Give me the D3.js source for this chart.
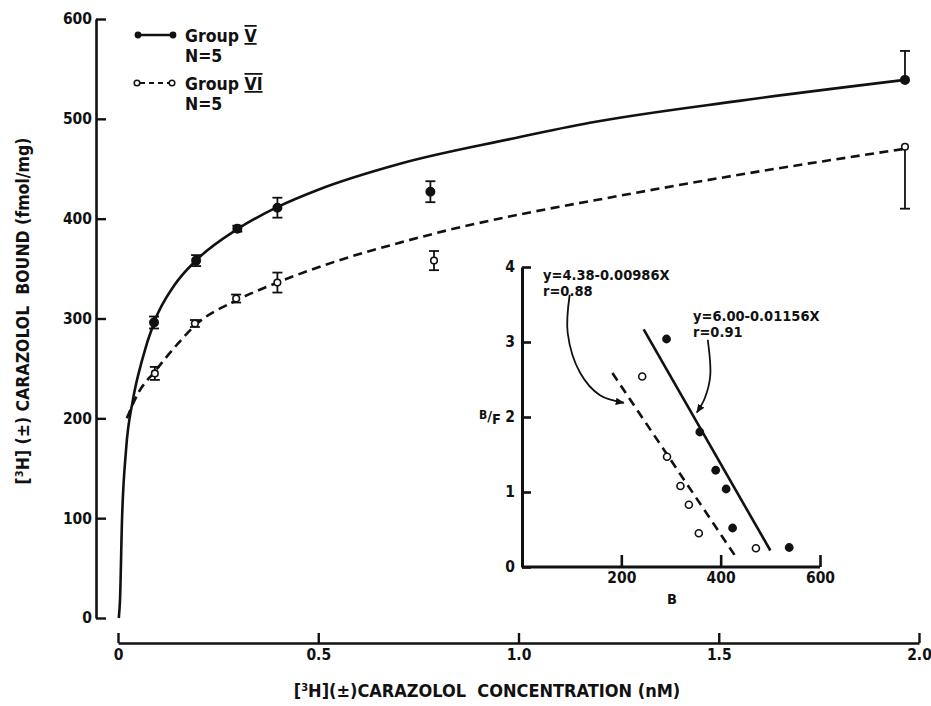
<!DOCTYPE html>
<html>
<head>
<meta charset="utf-8">
<script src="https://cdn.jsdelivr.net/npm/d3@7"></script>
<style>
  html, body { margin: 0; padding: 0; background: #fff; }
  svg { display: block; }
  text { font-family: "DejaVu Sans Condensed", "Liberation Sans Narrow", "DejaVu Sans", sans-serif; font-weight: bold; fill: #111; }
</style>
</head>
<body>
<svg id="chart" width="931" height="706"></svg>
<script>
// ---- Saturation binding: [3H](±)carazolol bound vs concentration ----
const concV = [0.09, 0.195, 0.298, 0.398, 0.78, 1.965];
const boundV = [296, 358, 390, 411, 427, 539];
const errV = [6, 5.5, 3, 10, 10.5, 29];
const errSideV = ["both", "both", "both", "both", "both", "up"];

const concVI = [0.092, 0.192, 0.295, 0.398, 0.789, 1.965];
const boundVI = [245, 295, 320, 336, 358, 472];
const errVI = [6.5, 3.5, 4, 10, 9.6, 62];
const errSideVI = ["both", "both", "both", "both", "both", "down"];

// fitted curves (concentration, bound)
const curveVx = [0.002, 0.005, 0.01, 0.02, 0.037, 0.06, 0.09, 0.142, 0.197, 0.3, 0.4, 0.5, 0.704, 0.983, 1.178, 1.551, 1.965];
const curveVy = [0, 18, 98, 168, 218, 258, 296, 334, 359, 390, 412, 429, 455, 480, 496, 518, 539];
const curveVIx = [0.022, 0.05, 0.092, 0.15, 0.192, 0.295, 0.398, 0.542, 0.704, 0.829, 1.0, 1.212, 1.551, 1.965];
const curveVIy = [200, 225, 247, 275, 293, 318, 336, 357, 376, 389, 404, 420, 444, 470];

const xTicks = [0, 0.5, 1.0, 1.5, 2.0];
const xTickLabels = ["0", "0.5", "1.0", "1.5", "2.0"];
const yTicks = [0, 100, 200, 300, 400, 500, 600];

// ---- Scatchard inset: B/F vs B ----
const scatBV = [291, 358, 390, 411, 424, 538];
const scatRatioV = [3.04, 1.80, 1.29, 1.04, 0.52, 0.26];
const scatBVI = [242, 292, 319, 336, 356, 471];
const scatRatioVI = [2.54, 1.47, 1.08, 0.83, 0.45, 0.25];

// regression lines: intercept, slope, B range drawn
const fitV = { a: 6.00, b: -0.01156, from: 245, to: 500 };
const fitVI = { a: 4.38, b: -0.00986, from: 182, to: 432 };
const fitLabelV = ["y=6.00-0.01156X", "r=0.91"];
const fitLabelVI = ["y=4.38-0.00986X", "r=0.88"];

const insetXTicks = [200, 400, 600];
const insetYTicks = [0, 1, 2, 3, 4];

// callout arrows (B, B/F)
const arrowVI = [[96, 3.63], [92, 3.12], [117, 2.59], [157, 2.29], [205, 2.19]];
const arrowV = [[374, 3.03], [379, 2.55], [368, 2.25], [352, 2.06]];

const FONT = "'DejaVu Sans Condensed','Liberation Sans Narrow','DejaVu Sans',sans-serif";
const svg = d3.select("#chart");

const x = d3.scaleLinear().domain([0, 2]).range([118, 919]);
const y = d3.scaleLinear().domain([0, 600]).range([618, 19]);

// y axis (ticks point inward, labels outside)
const yAxisG = svg.append("g").attr("transform", "translate(96,0)")
  .call(d3.axisLeft(y).tickValues(yTicks).tickSize(-10).tickSizeOuter(0).tickPadding(4).tickFormat(d3.format("d")));
// x axis, offset below the plot
const xAxisG = svg.append("g").attr("transform", "translate(0,643)")
  .call(d3.axisBottom(x).tickValues(xTicks).tickSize(-10).tickSizeOuter(0).tickPadding(4)
    .tickFormat((d, i) => xTickLabels[i]));

[yAxisG, xAxisG].forEach(g => {
  g.select(".domain").attr("stroke", "#111").attr("stroke-width", 2.6);
  g.selectAll(".tick line").attr("stroke", "#111").attr("stroke-width", 2.4);
  g.selectAll("text").attr("font-size", 15.5).attr("fill", "#111")
    .style("font-family", FONT).style("font-weight", "bold");
});
xAxisG.selectAll("text").attr("dy", "0.85em");

// axis titles
svg.append("text")
  .attr("transform", "translate(29,311) rotate(-90)")
  .attr("text-anchor", "middle").attr("font-size", 17.5)
  .html('[<tspan baseline-shift="super" font-size="11">3</tspan>H] (±) CARAZOLOL&#160;&#160;BOUND (fmol/mg)');
svg.append("text")
  .attr("x", 487).attr("y", 697)
  .attr("text-anchor", "middle").attr("font-size", 18)
  .html('[<tspan baseline-shift="super" font-size="11">3</tspan>H](±)CARAZOLOL&#160;&#160;CONCENTRATION (nM)');

// fitted curves
const lineMain = d3.line().x(d => x(d[0])).y(d => y(d[1])).curve(d3.curveMonotoneX);
svg.append("path")
  .datum(curveVx.map((v, i) => [v, curveVy[i]]))
  .attr("d", lineMain).attr("fill", "none").attr("stroke", "#111").attr("stroke-width", 2.6);
svg.append("path")
  .datum(curveVIx.map((v, i) => [v, curveVIy[i]]))
  .attr("d", lineMain).attr("fill", "none").attr("stroke", "#111").attr("stroke-width", 2.6)
  .attr("stroke-dasharray", "9,5.5");

// error bars + points
function drawSeries(conc, bound, err, side, filled) {
  const g = svg.append("g");
  conc.forEach((c, i) => {
    const cx = x(c);
    const lo = side[i] === "up" ? bound[i] : bound[i] - err[i];
    const hi = side[i] === "down" ? bound[i] : bound[i] + err[i];
    g.append("line").attr("x1", cx).attr("x2", cx).attr("y1", y(lo)).attr("y2", y(hi))
      .attr("stroke", "#111").attr("stroke-width", 1.8);
    if (side[i] !== "up") g.append("line").attr("x1", cx - 5).attr("x2", cx + 5).attr("y1", y(lo)).attr("y2", y(lo))
      .attr("stroke", "#111").attr("stroke-width", 1.8);
    if (side[i] !== "down") g.append("line").attr("x1", cx - 5).attr("x2", cx + 5).attr("y1", y(hi)).attr("y2", y(hi))
      .attr("stroke", "#111").attr("stroke-width", 1.8);
    g.append("circle").attr("cx", cx).attr("cy", y(bound[i]))
      .attr("r", filled ? 4.2 : 3.3)
      .attr("fill", filled ? "#111" : "#fff").attr("stroke", "#111").attr("stroke-width", 1.6);
  });
}
drawSeries(concVI, boundVI, errVI, errSideVI, false);
drawSeries(concV, boundV, errV, errSideV, true);

// legend
const legend = svg.append("g");
legend.append("line").attr("x1", 138).attr("x2", 173).attr("y1", 35).attr("y2", 35)
  .attr("stroke", "#111").attr("stroke-width", 2.4);
[138, 173].forEach(cx => legend.append("circle").attr("cx", cx).attr("cy", 35).attr("r", 3.4).attr("fill", "#111"));
legend.append("line").attr("x1", 140).attr("x2", 170).attr("y1", 83).attr("y2", 83)
  .attr("stroke", "#111").attr("stroke-width", 2).attr("stroke-dasharray", "5,4");
[137, 172].forEach(cx => legend.append("circle").attr("cx", cx).attr("cy", 83).attr("r", 2.8)
  .attr("fill", "#fff").attr("stroke", "#111").attr("stroke-width", 1.5));

function legendEntry(ty, numeral) {
  const t = legend.append("text").attr("x", 185).attr("y", ty).attr("font-size", 17.5);
  t.append("tspan").text("Group ");
  t.append("tspan").text(numeral).style("text-decoration", "underline overline");
  legend.append("text").attr("x", 185).attr("y", ty + 20).attr("font-size", 17.5).text("N=5");
}
legendEntry(42, "V");
legendEntry(90, "VI");

// ---- inset ----
const xi = d3.scaleLinear().domain([0, 600]).range([522, 820]);
const yi = d3.scaleLinear().domain([0, 4]).range([567, 267]);

const inYG = svg.append("g").attr("transform", "translate(522,0)")
  .call(d3.axisLeft(yi).tickValues(insetYTicks).tickSize(-9).tickSizeOuter(0).tickPadding(7).tickFormat(d3.format("d")));
const inXG = svg.append("g").attr("transform", "translate(0,567)")
  .call(d3.axisBottom(xi).tickValues(insetXTicks).tickSize(-12).tickSizeOuter(0).tickPadding(3).tickFormat(d3.format("d")));
[inYG, inXG].forEach(g => {
  g.select(".domain").attr("stroke", "#111").attr("stroke-width", 3);
  g.selectAll(".tick line").attr("stroke", "#111").attr("stroke-width", 2.6);
  g.selectAll("text").attr("font-size", 15.5).attr("fill", "#111")
    .style("font-family", FONT).style("font-weight", "bold");
});
inXG.selectAll("text").attr("dy", "0.85em");
// extend inset x axis to the origin
inXG.select(".domain").attr("d", `M${xi(0)},0H${xi(600)}`);

svg.append("text").attr("x", 672).attr("y", 604).attr("text-anchor", "middle").attr("font-size", 14.5).text("B");
svg.append("text").attr("x", 490).attr("y", 423).attr("text-anchor", "middle").attr("font-size", 14.5)
  .html('<tspan font-size="12" dy="-4">B</tspan><tspan dy="2">/</tspan><tspan dy="3">F</tspan>');

// regression lines
function fitLine(f, dashed) {
  svg.append("line")
    .attr("x1", xi(f.from)).attr("y1", yi(f.a + f.b * f.from))
    .attr("x2", xi(f.to)).attr("y2", yi(f.a + f.b * f.to))
    .attr("stroke", "#111").attr("stroke-width", 2.6)
    .attr("stroke-dasharray", dashed ? "9,6" : null);
}
fitLine(fitV, false);
fitLine(fitVI, true);

scatBV.forEach((b, i) => svg.append("circle").attr("cx", xi(b)).attr("cy", yi(scatRatioV[i]))
  .attr("r", 4.4).attr("fill", "#111"));
scatBVI.forEach((b, i) => svg.append("circle").attr("cx", xi(b)).attr("cy", yi(scatRatioVI[i]))
  .attr("r", 3.5).attr("fill", "#fff").attr("stroke", "#111").attr("stroke-width", 1.6));

// fit equations
function fitText(lines, tx, ty) {
  lines.forEach((s, i) => svg.append("text").attr("x", tx).attr("y", ty + i * 16).attr("font-size", 14.5).text(s));
}
fitText(fitLabelVI, 543, 280);
fitText(fitLabelV, 693, 321);

// callout arrows
svg.append("defs").append("marker")
  .attr("id", "arrowHead").attr("viewBox", "0 0 10 10").attr("refX", 9).attr("refY", 5)
  .attr("markerWidth", 9).attr("markerHeight", 9).attr("markerUnits", "userSpaceOnUse").attr("orient", "auto")
  .append("path").attr("d", "M0,1 L10,5 L0,9 Z").attr("fill", "#111");
const arrowLine = d3.line().x(d => xi(d[0])).y(d => yi(d[1])).curve(d3.curveCatmullRom);
[arrowVI, arrowV].forEach(a => svg.append("path").datum(a).attr("d", arrowLine)
  .attr("fill", "none").attr("stroke", "#111").attr("stroke-width", 1.8).attr("marker-end", "url(#arrowHead)"));
</script>
</body>
</html>
